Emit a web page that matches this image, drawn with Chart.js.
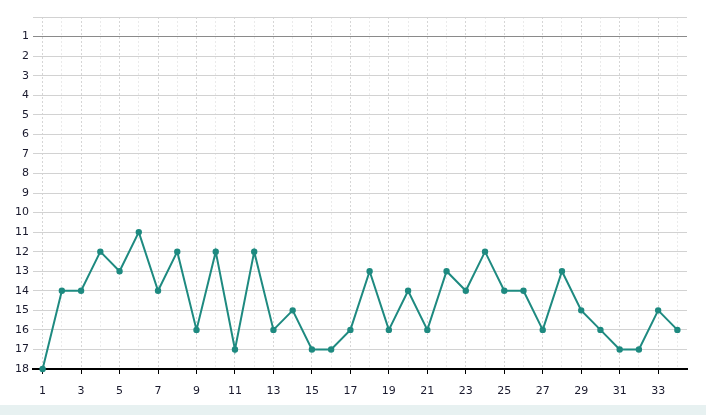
<!DOCTYPE html>
<html>
<head>
<meta charset="utf-8">
<script src="https://cdn.jsdelivr.net/npm/chart.js@4"></script>
<style>
  html, body { margin: 0; padding: 0; background: #fff; }
  #wrap { position: relative; width: 706px; height: 405px; }
  #band { width: 706px; height: 10px; background: #e7f1f1; }
</style>
</head>
<body>
<div id="wrap"><canvas id="chart"></canvas></div>
<div id="band"></div>
<script>
// --- data ---
const matches = [];
for (let i = 1; i <= 34; i++) matches.push(i);
const positions = [18, 14, 14, 12, 13, 11, 14, 12, 16, 12, 17, 12, 16, 15, 17, 17, 16,
                   13, 16, 14, 16, 13, 14, 12, 14, 14, 16, 13, 15, 16, 17, 17, 15, 16];
const yTicks = [1, 2, 3, 4, 5, 6, 7, 8, 9, 10, 11, 12, 13, 14, 15, 16, 17, 18];

const points = matches.map((m, i) => ({ x: m, y: positions[i] }));
const lineColor = '#1e8a80';
const labelFont = { family: 'DejaVu Sans', size: 11 };

new Chart(document.getElementById('chart'), {
  type: 'line',
  data: {
    datasets: [{
      data: points,
      borderColor: lineColor,
      backgroundColor: lineColor,
      borderWidth: 2,
      pointRadius: 2.2,
      pointHoverRadius: 2.2,
      tension: 0,
      clip: false
    }]
  },
  options: {
    responsive: true, maintainAspectRatio: false, animation: false,
    layout: { padding: { left: 0, top: 17, right: 19, bottom: 0 } },
    plugins: { legend: { display: false }, tooltip: { enabled: false } },
    scales: {
      x: {
        type: 'linear', min: 0.5, max: 34.5,
        afterBuildTicks: s => { s.ticks = matches.map(v => ({ value: v })); },
        afterFit: s => { s.height = 36; },
        ticks: {
          color: '#1a1a2e', font: labelFont, padding: 11, maxRotation: 0, autoSkip: false,
          callback: v => (v % 2 === 1 ? String(v) : '')
        },
        grid: {
          color: c => (c.tick && c.tick.value % 2 === 1 ? '#d6d6d6' : '#ebebeb'),
          tickColor: c => (c.tick && c.tick.value % 2 === 1 ? '#000' : 'rgba(0,0,0,0)'),
          tickLength: 5,
          lineWidth: 1
        },
        border: { display: true, color: '#000', width: 2, dash: [2, 2] }
      },
      y: {
        type: 'linear', min: 0, max: 18, reverse: true,
        afterBuildTicks: s => { s.ticks = [0].concat(yTicks).map(v => ({ value: v })); },
        afterFit: s => { s.width = 33; },
        ticks: {
          color: '#1a1a2e', font: labelFont, padding: 4, autoSkip: false,
          callback: v => (v === 0 ? '' : String(v))
        },
        grid: {
          drawTicks: false,
          color: c => (c.tick && c.tick.value === 1 ? '#8a8a8a' : '#d2d2d2'),
          lineWidth: 1
        },
        border: { display: false }
      }
    }
  }
});
</script>
</body>
</html>
